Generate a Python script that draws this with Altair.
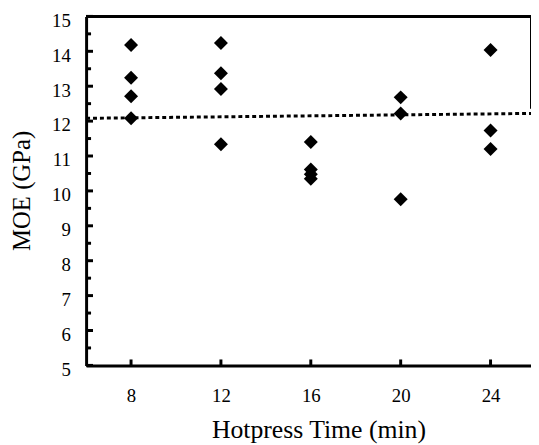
import altair as alt
import pandas as pd

# Data
hotpress_time = [8, 8, 8, 8,
                 12, 12, 12, 12,
                 16, 16, 16, 16,
                 20, 20, 20,
                 24, 24, 24]
moe_gpa = [14.18, 13.24, 12.71, 12.08,
           14.24, 13.37, 12.92, 11.34,
           11.40, 10.61, 10.48, 10.35,
           12.68, 12.22, 9.76,
           14.04, 11.73, 11.20]

mean_x = [6.0, 25.8]
mean_y = [12.08, 12.22]

y_major = [5, 6, 7, 8, 9, 10, 11, 12, 13, 14, 15]
y_minor = [5.5, 6.5, 7.5, 8.5, 9.5, 10.5, 11.5, 12.5, 13.5, 14.5]
x_ticks = [8, 12, 16, 20, 24]

FONT = "Liberation Serif"
W, H = 450, 353

pts = pd.DataFrame({"t": hotpress_time, "moe": moe_gpa})
mean_df = pd.DataFrame({"t": mean_x, "moe": mean_y})
ymaj = pd.DataFrame({"v": y_major})
ymin = pd.DataFrame({"v": y_minor})
xt = pd.DataFrame({"v": x_ticks})

xscale = alt.Scale(domain=[6, 25.8], nice=False, zero=False)
yscale = alt.Scale(domain=[5, 15], nice=False, zero=False)

xaxis = alt.Axis(values=x_ticks, ticks=False, grid=False, domainColor="black",
                 domainWidth=3, labelFont=FONT, labelFontSize=19, labelColor="black",
                 labelPadding=22, labelOverlap=False, title="Hotpress Time (min)",
                 titleFont=FONT, titleFontSize=26, titleFontWeight="normal",
                 titleColor="black", titleX=235, titleY=73, titleAlign="center",
                 titleBaseline="alphabetic")
yaxis = alt.Axis(values=y_major, ticks=False, grid=False, domainColor="black",
                 domainWidth=3, labelFont=FONT, labelFontSize=19, labelColor="black",
                 labelPadding=16, labelOverlap=False, labelOffset=4, labelFlush=False,
                 title="MOE (GPa)", titleFont=FONT,
                 titleFontSize=25, titleFontWeight="normal", titleColor="black",
                 titleX=-65, titleY=176, titleAngle=270, titleAlign="center",
                 titleBaseline="middle")

points = alt.Chart(pts).mark_point(shape="diamond", filled=True, size=200,
                                   color="black", opacity=1).encode(
    x=alt.X("t:Q", scale=xscale, axis=xaxis),
    y=alt.Y("moe:Q", scale=yscale, axis=yaxis),
)

mean_line = alt.Chart(mean_df).mark_line(color="black", strokeWidth=3,
                                         strokeDash=[4, 3]).encode(
    x=alt.X("t:Q", scale=xscale, axis=xaxis),
    y=alt.Y("moe:Q", scale=yscale, axis=yaxis),
)

ymaj_ticks = alt.Chart(ymaj).mark_rule(color="black", strokeWidth=3).encode(
    x=alt.value(0), x2=alt.value(7), y=alt.Y("v:Q", scale=yscale, axis=yaxis))
ymin_ticks = alt.Chart(ymin).mark_rule(color="black", strokeWidth=3).encode(
    x=alt.value(0), x2=alt.value(5), y=alt.Y("v:Q", scale=yscale, axis=yaxis))
x_tick_marks = alt.Chart(xt).mark_rule(color="black", strokeWidth=3).encode(
    x=alt.X("v:Q", scale=xscale, axis=xaxis), y=alt.value(H), y2=alt.value(H - 6))

top_border = alt.Chart(xt).mark_rule(color="black", strokeWidth=3).encode(
    x=alt.value(0), x2=alt.value(W), y=alt.value(0))
right_border = alt.Chart(xt).mark_rule(color="black", strokeWidth=2).encode(
    x=alt.value(W), y=alt.value(0), y2=alt.value(93))

chart = alt.layer(
    top_border, right_border, ymaj_ticks, ymin_ticks, x_tick_marks, mean_line, points
).properties(
    width=W, height=H,
    autosize=alt.AutoSizeParams(type="none"),
    padding={"left": 79, "top": 6, "right": 0, "bottom": 77},
    background="white",
).configure_view(stroke=None)

chart.save("out.html", embed_options={"renderer": "svg", "actions": False})
